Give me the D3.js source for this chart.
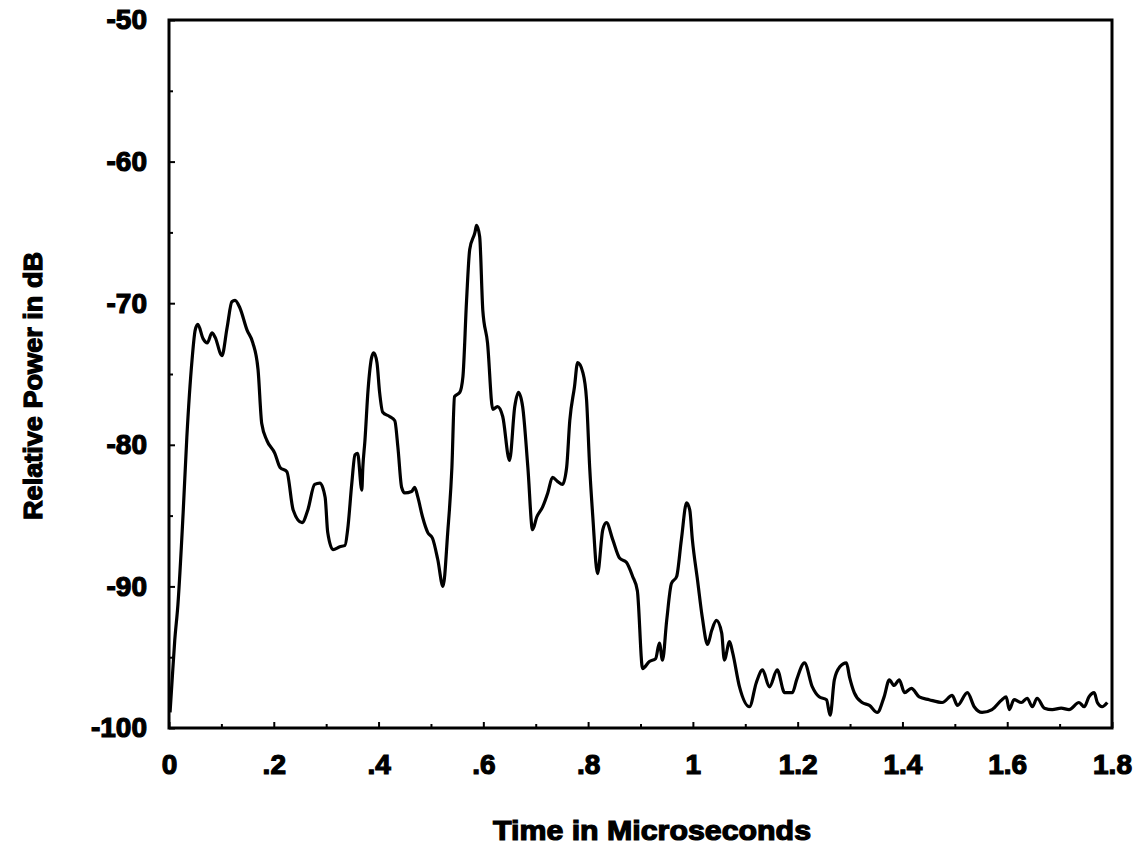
<!DOCTYPE html>
<html>
<head>
<meta charset="utf-8">
<script src="https://cdn.jsdelivr.net/npm/d3@7"></script>
<style>
  body { margin: 0; background: #fff; }
  text { font-family: "Liberation Sans", Arial, sans-serif; font-weight: bold; fill: #000; }
</style>
</head>
<body>
<script>
// time (microseconds) and relative power (dB)
const timeUs = [
  0.002, 0.006, 0.011, 0.017, 0.027, 0.034, 0.044, 0.050, 0.055, 0.065,
  0.073, 0.082, 0.088, 0.101, 0.111, 0.120, 0.126, 0.135, 0.149, 0.160,
  0.170, 0.177, 0.187, 0.202, 0.212, 0.225, 0.237, 0.254, 0.265, 0.278,
  0.288, 0.298, 0.303, 0.313, 0.326, 0.336, 0.341, 0.349, 0.355, 0.360,
  0.368, 0.370, 0.374, 0.380, 0.387, 0.391, 0.397, 0.402, 0.408, 0.421,
  0.431, 0.437, 0.444, 0.450, 0.463, 0.469, 0.475, 0.484, 0.494, 0.503,
  0.513, 0.523, 0.532, 0.540, 0.545, 0.555, 0.561, 0.568, 0.574, 0.584,
  0.587, 0.593, 0.599, 0.608, 0.618, 0.627, 0.637, 0.650, 0.660, 0.667,
  0.675, 0.685, 0.694, 0.702, 0.713, 0.723, 0.732, 0.742, 0.751, 0.759,
  0.765, 0.774, 0.780, 0.790, 0.797, 0.803, 0.809, 0.818, 0.828, 0.835,
  0.847, 0.860, 0.873, 0.885, 0.894, 0.904, 0.917, 0.929, 0.936, 0.942,
  0.950, 0.959, 0.969, 0.978, 0.988, 0.994, 0.999, 1.009, 1.018, 1.028,
  1.036, 1.045, 1.055, 1.060, 1.070, 1.076, 1.089, 1.108, 1.121, 1.133,
  1.146, 1.161, 1.175, 1.190, 1.198, 1.213, 1.228, 1.241, 1.255, 1.262,
  1.270, 1.280, 1.293, 1.299, 1.308, 1.323, 1.337, 1.352, 1.365, 1.375,
  1.384, 1.394, 1.404, 1.417, 1.432, 1.451, 1.476, 1.495, 1.505, 1.524,
  1.537, 1.552, 1.571, 1.590, 1.598, 1.604, 1.613, 1.627, 1.638, 1.648,
  1.657, 1.671, 1.686, 1.703, 1.718, 1.737, 1.747, 1.756, 1.766, 1.772,
  1.781, 1.791
];
const powerDb = [
  -98.9, -96.6, -93.8, -91.3, -84.8, -79.5, -74.0, -71.9, -71.5, -72.5,
  -72.8, -72.1, -72.4, -73.7, -71.7, -69.9, -69.8, -70.3, -71.9, -72.8,
  -74.7, -78.5, -79.7, -80.6, -81.6, -81.9, -84.6, -85.5, -84.6, -82.8,
  -82.7, -83.7, -86.2, -87.4, -87.2, -87.1, -86.0, -82.7, -80.7, -80.6,
  -83.2, -81.6, -79.7, -76.1, -73.8, -73.5, -74.2, -76.3, -77.7, -78.0,
  -78.3, -80.2, -83.0, -83.4, -83.3, -83.0, -83.7, -85.1, -86.2, -86.6,
  -88.1, -90.0, -86.2, -81.6, -76.6, -76.3, -75.2, -69.8, -66.2, -65.0,
  -64.5, -65.3, -70.5, -72.8, -77.5, -77.3, -78.0, -81.1, -77.3, -76.3,
  -77.3, -81.6, -86.0, -85.1, -84.4, -83.4, -82.3, -82.6, -82.8, -81.6,
  -78.3, -75.9, -74.2, -74.9, -76.8, -81.6, -85.1, -89.1, -86.0, -85.5,
  -86.7, -88.0, -88.3, -89.3, -90.3, -95.8, -95.3, -95.1, -94.0, -95.2,
  -92.4, -89.8, -89.3, -86.7, -84.1, -84.6, -86.7, -89.6, -92.2, -94.1,
  -93.1, -92.4, -93.3, -95.2, -93.9, -94.7, -97.1, -98.5, -96.8, -95.9,
  -97.1, -95.9, -97.5, -97.5, -96.6, -95.4, -97.1, -97.8, -98.0, -99.1,
  -96.6, -95.7, -95.4, -96.4, -97.5, -98.2, -98.4, -98.9, -97.8, -96.6,
  -97.0, -96.6, -97.5, -97.2, -97.8, -98.0, -98.2, -97.7, -98.4, -97.5,
  -98.5, -98.9, -98.7, -98.0, -97.8, -98.7, -98.0, -98.2, -97.9, -98.5,
  -97.9, -98.6, -98.7, -98.6, -98.7, -98.2, -98.5, -97.8, -97.5, -98.2,
  -98.5, -98.2
];
const xTicks = [0, 0.2, 0.4, 0.6, 0.8, 1, 1.2, 1.4, 1.6, 1.8];
const xTickLabels = ["0", ".2", ".4", ".6", ".8", "1", "1.2", "1.4", "1.6", "1.8"];
const xMinorTicks = [0.1, 0.3, 0.5, 0.7, 0.9, 1.1, 1.3, 1.5, 1.7];
const yTicks = [-50, -60, -70, -80, -90, -100];
const yMinorTicks = [-55, -65, -75, -85, -95];

const W = 1139, H = 845;
const margin = {top: 20, right: 29, bottom: 117, left: 169};
const width = W - margin.left - margin.right,
      height = H - margin.top - margin.bottom;

const svg = d3.select("body").append("svg")
    .attr("width", W)
    .attr("height", H);

const g = svg.append("g")
    .attr("transform", `translate(${margin.left},${margin.top})`);

const x = d3.scaleLinear().domain([0, 1.8]).range([0, width + 2]);
const y = d3.scaleLinear().domain([-100, -50]).range([height, 0]);

// minor ticks (inward, no labels)
g.append("g")
    .attr("transform", `translate(0,${height})`)
    .call(d3.axisBottom(x).tickValues(xMinorTicks).tickFormat("").tickSizeInner(-4).tickSizeOuter(0))
    .call(a => a.select(".domain").remove());
g.append("g")
    .call(d3.axisLeft(y).tickValues(yMinorTicks).tickFormat("").tickSizeInner(-4).tickSizeOuter(0))
    .call(a => a.select(".domain").remove());

// major ticks + labels
const xAxis = g.append("g")
    .attr("transform", `translate(0,${height})`)
    .call(d3.axisBottom(x)
        .tickValues(xTicks)
        .tickFormat((d, i) => xTickLabels[i])
        .tickSizeInner(-6).tickSizeOuter(0).tickPadding(26));
xAxis.select(".domain").remove();

const yAxis = g.append("g")
    .call(d3.axisLeft(y)
        .tickValues(yTicks)
        .tickFormat(d => d)
        .tickSizeInner(-6).tickSizeOuter(0).tickPadding(22));
yAxis.select(".domain").remove();

g.selectAll(".tick line").attr("stroke", "#000").attr("stroke-width", 2);
g.selectAll(".tick text")
    .style("font-family", '"Liberation Sans", Arial, sans-serif')
    .style("font-weight", "bold")
    .style("font-size", "28px")
    .attr("stroke", "#000")
    .attr("stroke-width", 1.2)
    .attr("fill", "#000");

// frame
g.append("rect")
    .attr("x", 0).attr("y", 0)
    .attr("width", x(1.8)).attr("height", height)
    .attr("fill", "none")
    .attr("stroke", "#000")
    .attr("stroke-width", 3);

// the trace
const pts = timeUs.map((t, i) => [t, powerDb[i]]);
g.append("path")
    .datum(pts)
    .attr("fill", "none")
    .attr("stroke", "#000")
    .attr("stroke-width", 3.2)
    .attr("stroke-linejoin", "round")
    .attr("d", d3.line().x(d => x(d[0])).y(d => y(d[1])).curve(d3.curveMonotoneX));

// axis titles
svg.append("text")
    .attr("x", 652).attr("y", 840)
    .attr("text-anchor", "middle")
    .style("font-size", "27px")
    .attr("textLength", 318)
    .attr("lengthAdjust", "spacingAndGlyphs")
    .attr("stroke", "#000").attr("stroke-width", 1.2)
    .text("Time in Microseconds");

svg.append("text")
    .attr("transform", "translate(42,386) rotate(-90)")
    .attr("text-anchor", "middle")
    .style("font-size", "25px")
    .attr("textLength", 268)
    .attr("lengthAdjust", "spacingAndGlyphs")
    .attr("stroke", "#000").attr("stroke-width", 1.2)
    .text("Relative Power in dB");
</script>
</body>
</html>
